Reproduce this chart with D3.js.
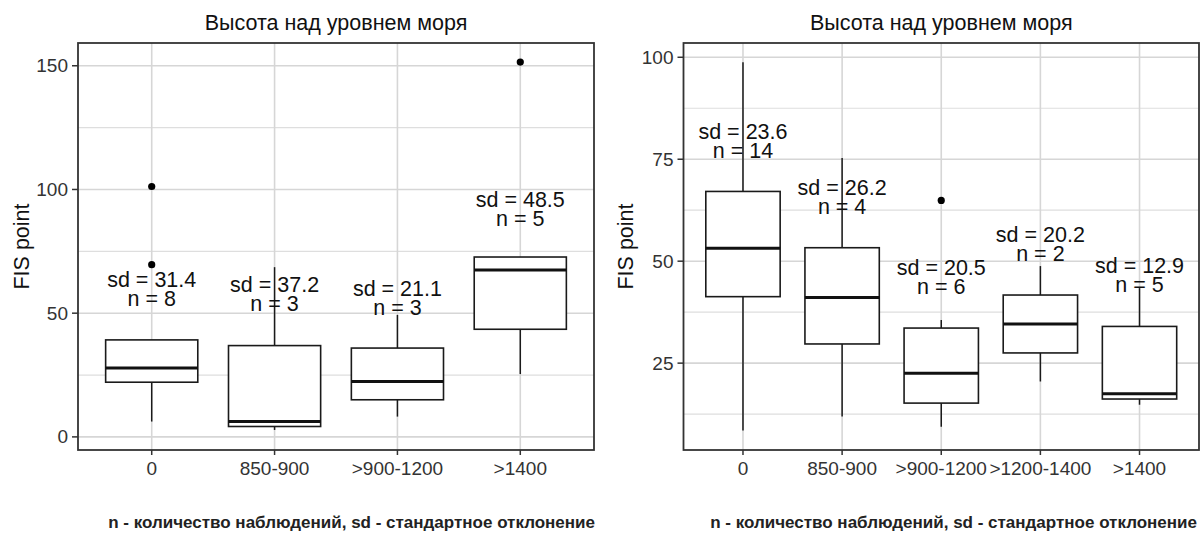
<!DOCTYPE html>
<html lang="ru">
<head>
<meta charset="utf-8">
<title>Высота над уровнем моря</title>
<script src="https://cdn.jsdelivr.net/npm/d3@7"></script>
<style>
  body { margin: 0; background: #fff; }
  svg { display: block; font-family: "Liberation Sans", Arial, sans-serif; }
</style>
</head>
<body>
<svg id="chart" width="1200" height="533"></svg>
<script>
// left panel data
const leftCats = ["0", "850-900", ">900-1200", ">1400"];
const leftLow = [6.2, 2.8, 8.2, 25.4];
const leftQ1 = [22.1, 4.2, 15.0, 43.5];
const leftMed = [27.8, 6.2, 22.4, 67.5];
const leftQ3 = [39.2, 36.9, 35.9, 72.7];
const leftHigh = [39.2, 68.6, 49.3, 72.7];
const leftOutliers = [[101.2, 69.6], [], [], [151.5]];
const leftSd = ["31.4", "37.2", "21.1", "48.5"];
const leftN = [8, 3, 3, 5];
const leftLabelY = [63.5, 61.5, 59.7, 95.8];
const leftTicks = [0, 50, 100, 150];
const leftMinor = [25, 75, 125];

// right panel data
const rightCats = ["0", "850-900", ">900-1200", ">1200-1400", ">1400"];
const rightLow = [8.5, 11.9, 9.4, 20.5, 14.8];
const rightQ1 = [41.3, 29.7, 15.2, 27.5, 16.2];
const rightMed = [53.2, 41.1, 22.5, 34.6, 17.5];
const rightQ3 = [67.1, 53.3, 33.6, 41.7, 34.0];
const rightHigh = [98.8, 75.3, 35.6, 48.8, 43.4];
const rightOutliers = [[], [], [64.9], [], []];
const rightSd = ["23.6", "26.2", "20.5", "20.2", "12.9"];
const rightN = [14, 4, 6, 2, 5];
const rightLabelY = [81.6, 67.9, 48.3, 56.5, 48.7];
const rightTicks = [25, 50, 75, 100];
const rightMinor = [12.5, 37.5, 62.5, 87.5];

const titleText = "Высота над уровнем моря";
const yTitle = "FIS point";
const footer = "n - количество наблюдений, sd - стандартное отклонение";

const svg = d3.select("#chart");

function panel(opt) {
    var x0 = opt.x0, x1 = opt.x1, top = 43, bottom = 450;
    var g = svg.append("g");

    // discrete axis with 0.6 step expansion on each side (ggplot style)
    var xScale = d3.scalePoint()
        .domain(opt.cats)
        .range([x0, x1])
        .padding(0.6);
    var step = xScale.step();

    var yScale = d3.scaleLinear()
        .domain(opt.domain)
        .range([bottom, top]);

    // grid
    g.selectAll(".minor").data(opt.minor).enter().append("line")
        .attr("x1", x0).attr("x2", x1)
        .attr("y1", d => yScale(d)).attr("y2", d => yScale(d))
        .attr("stroke", "#dedede").attr("stroke-width", 1.2);
    g.selectAll(".major").data(opt.ticks).enter().append("line")
        .attr("x1", x0).attr("x2", x1)
        .attr("y1", d => yScale(d)).attr("y2", d => yScale(d))
        .attr("stroke", "#d6d6d6").attr("stroke-width", 1.6);
    g.selectAll(".vgrid").data(opt.cats).enter().append("line")
        .attr("x1", d => xScale(d)).attr("x2", d => xScale(d))
        .attr("y1", top).attr("y2", bottom)
        .attr("stroke", "#d6d6d6").attr("stroke-width", 1.6);

    // boxes
    var bw = step * 0.75;
    opt.cats.forEach(function (c, i) {
        var x = xScale(c);
        g.append("line").attr("x1", x).attr("x2", x)
            .attr("y1", yScale(opt.q3[i])).attr("y2", yScale(opt.high[i]))
            .attr("stroke", "#1a1a1a").attr("stroke-width", 1.5);
        g.append("line").attr("x1", x).attr("x2", x)
            .attr("y1", yScale(opt.q1[i])).attr("y2", yScale(opt.low[i]))
            .attr("stroke", "#1a1a1a").attr("stroke-width", 1.5);
        g.append("rect")
            .attr("x", x - bw / 2).attr("width", bw)
            .attr("y", yScale(opt.q3[i]))
            .attr("height", yScale(opt.q1[i]) - yScale(opt.q3[i]))
            .attr("fill", "#fff").attr("stroke", "#1a1a1a").attr("stroke-width", 1.6);
        g.append("line").attr("x1", x - bw / 2).attr("x2", x + bw / 2)
            .attr("y1", yScale(opt.med[i])).attr("y2", yScale(opt.med[i]))
            .attr("stroke", "#111").attr("stroke-width", 3);
        opt.outliers[i].forEach(function (v) {
            g.append("circle").attr("cx", x).attr("cy", yScale(v))
                .attr("r", 3.6).attr("fill", "#000");
        });
        // sd / n labels
        var ly = yScale(opt.labelY[i]);
        g.append("text").attr("x", x).attr("y", ly)
            .attr("text-anchor", "middle").attr("dominant-baseline", "central")
            .attr("font-size", 21.5).attr("fill", "#111")
            .text("sd = " + opt.sd[i]);
        g.append("text").attr("x", x).attr("y", ly + 19)
            .attr("text-anchor", "middle").attr("dominant-baseline", "central")
            .attr("font-size", 21.5).attr("fill", "#111")
            .text("n = " + opt.n[i]);
    });

    // border
    g.append("rect").attr("x", x0).attr("y", top)
        .attr("width", x1 - x0).attr("height", bottom - top)
        .attr("fill", "none").attr("stroke", "#333").attr("stroke-width", 1.8);

    // y axis ticks + labels
    opt.ticks.forEach(function (t) {
        g.append("line").attr("x1", x0 - 6).attr("x2", x0)
            .attr("y1", yScale(t)).attr("y2", yScale(t))
            .attr("stroke", "#333").attr("stroke-width", 1.5);
        g.append("text").attr("x", x0 - 10).attr("y", yScale(t))
            .attr("text-anchor", "end").attr("dominant-baseline", "central")
            .attr("font-size", 19).attr("fill", "#333").text(t);
    });
    // x axis ticks + labels
    opt.cats.forEach(function (c) {
        g.append("line").attr("x1", xScale(c)).attr("x2", xScale(c))
            .attr("y1", bottom).attr("y2", bottom + 5)
            .attr("stroke", "#333").attr("stroke-width", 1.5);
        g.append("text").attr("x", xScale(c)).attr("y", bottom + 18)
            .attr("text-anchor", "middle").attr("dominant-baseline", "central")
            .attr("font-size", 19).attr("fill", "#333").text(c);
    });

    // titles
    g.append("text").attr("x", (x0 + x1) / 2).attr("y", 23)
        .attr("text-anchor", "middle").attr("dominant-baseline", "central")
        .attr("font-size", 21.5).attr("fill", "#111").text(titleText);
    g.append("text")
        .attr("transform", "translate(" + opt.ytx + "," + (top + bottom) / 2 + ") rotate(-90)")
        .attr("text-anchor", "middle").attr("dominant-baseline", "central")
        .attr("font-size", 21.5).attr("fill", "#111").text(yTitle);
    g.append("text").attr("x", opt.footX).attr("y", 522)
        .attr("text-anchor", "end").attr("dominant-baseline", "central")
        .attr("font-size", 17).attr("font-weight", "bold").attr("fill", "#222").text(footer);
}

panel({
    x0: 78, x1: 594, cats: leftCats, domain: [-5.3, 159.2],
    low: leftLow, q1: leftQ1, med: leftMed, q3: leftQ3, high: leftHigh,
    outliers: leftOutliers, sd: leftSd, n: leftN, labelY: leftLabelY,
    ticks: leftTicks, minor: leftMinor, ytx: 22, footX: 595
});
panel({
    x0: 683.5, x1: 1199, cats: rightCats, domain: [3.7, 103.5],
    low: rightLow, q1: rightQ1, med: rightMed, q3: rightQ3, high: rightHigh,
    outliers: rightOutliers, sd: rightSd, n: rightN, labelY: rightLabelY,
    ticks: rightTicks, minor: rightMinor, ytx: 626, footX: 1197
});
</script>
</body>
</html>
